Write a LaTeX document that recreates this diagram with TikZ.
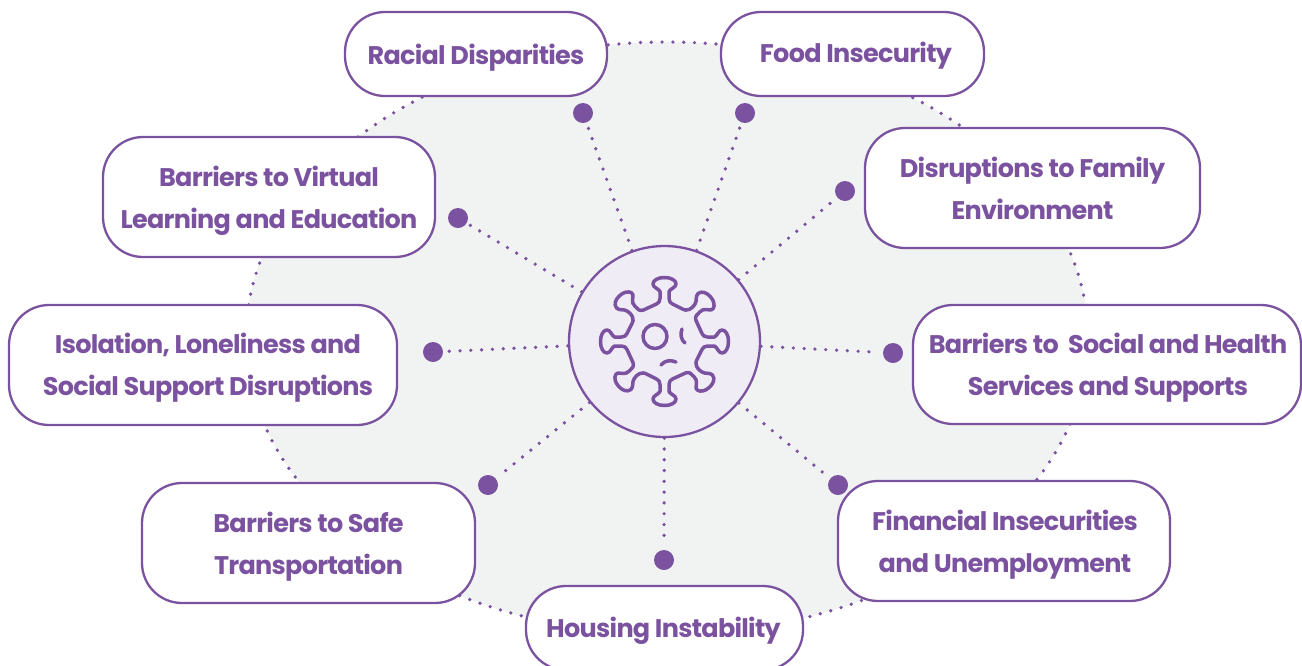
\documentclass[tikz,border=0pt]{standalone}
\usepackage{fontspec}
\setmainfont{Poppins}[LetterSpace=-2.8]
\definecolor{vio}{HTML}{7B529F}
\definecolor{hubfill}{HTML}{F0ECF5}
\definecolor{blob}{HTML}{F1F3F3}
\tikzset{
  x=1pt,y=-1pt,
  label box/.style={draw=vio,line width=2.3pt,fill=white,rounded corners=40pt,inner sep=0pt},
  label text/.style={inner sep=0pt,text=vio,align=center,font=\fontsize{25.5}{42}\selectfont\bfseries},
  dot/.style={circle,fill=vio,minimum size=20pt,inner sep=0pt,outer sep=4pt},
  hub/.style={circle,draw=vio,line width=2.3pt,fill=hubfill,minimum size=191pt,inner sep=0pt},
  dotline/.style={draw=vio,line width=3.7pt,line cap=round,dash pattern=on 0pt off 10.8pt},
  virus/.style={draw=vio,line width=3.5pt,line cap=round,line join=round},
}
% x, y, width, height, name, text dx, text dy (downward), text
\newcommand{\bx}[8]{\node[label box,minimum width=#3pt,minimum height=#4pt] (#5) at (#1,#2) {};
  \node[label text] (#5-t) at ([xshift=#6pt,yshift=-#7pt]#5.center) {#8};}
\begin{document}
\begin{tikzpicture}
\useasboundingbox (0,0) rectangle (1302,665);
\fill[blob] (667,338) ellipse [x radius=421pt,y radius=296pt];
\draw[dotline] (667,338) ellipse [x radius=421pt,y radius=296pt];
\node[hub] (hub) at (664.5,341.5) {};
\foreach \n/\x/\y in {d1/583/113,d2/745/113,d3/845/191,d4/893/353,d5/838/485,d6/664/560,d7/488/485,d8/433/352,d9/458/218}{
  \node[dot] (\n) at (\x,\y) {};
  \draw[dotline] (hub) -- (\n);
}
\bx{476}{54}{262}{84}{racial}{0}{3.5}{Racial Disparities}
\bx{852.5}{54}{263}{84}{food}{3.5}{1.5}{Food Insecurity}
\bx{1032.5}{188}{335}{120}{family}{0}{0.5}{Disruptions to Family\\Environment}
\bx{1107}{364.5}{388}{119}{social}{1}{3.5}{Barriers to\ \ Social and Health\\Services and Supports}
\bx{1004}{541}{332}{120}{finance}{1}{3.5}{Financial Insecurities\\and Unemployment}
\bx{664.5}{628}{277}{84}{housing}{-1}{2.5}{Housing Instability}
\bx{308.5}{543}{333}{120}{safe}{0}{3.5}{Barriers to Safe\\Transportation}
\bx{203}{365}{388}{120}{isolation}{5}{3}{Isolation, Loneliness and\\Social Support Disruptions}
\bx{269}{197}{332}{120}{virtual}{0}{3.5}{Barriers to Virtual\\Learning and Education}
\foreach \a in {0,90,180,270}{
  \begin{scope}[shift={(664.5,341.5)},rotate=\a]
    \draw[virus] (0,-64) .. controls (-7,-64) and (-11.5,-61) .. (-11.5,-57.5)
      .. controls (-11.5,-54) and (-6,-53) .. (-4.5,-50) -- (-4.5,-43)
      .. controls (-4.5,-40) and (-6,-38.5) .. (-8,-37.5) -- (-21,-31.5)
      .. controls (-25,-30) and (-27,-32.5) .. (-29.3,-35)
      .. controls (-34,-39) and (-31,-44) .. (-31.7,-47)
      .. controls (-32.5,-50) and (-38,-50.5) .. (-42,-48)
      .. controls (-47,-45) and (-50,-40) .. (-49.3,-36.5)
      .. controls (-48.5,-31) and (-43,-32) .. (-40,-31.5)
      .. controls (-36,-30.5) and (-33,-27) .. (-32,-24.5)
      .. controls (-31,-22) and (-31.5,-20) .. (-32,-19) -- (-37.5,-8)
      .. controls (-38.5,-6) and (-40,-4.5) .. (-43,-4.5) -- (-50,-4.5)
      .. controls (-53,-6) and (-54,-11.5) .. (-57.5,-11.5)
      .. controls (-61,-11.5) and (-64,-7) .. (-64,0);
  \end{scope}
}
\draw[virus] (655,336.5) circle [radius=12pt];
\draw[virus] (682,329) .. controls (680,334) and (681,340) .. (685,343);
\draw[virus] (661,365) .. controls (665,360) and (671,360) .. (676,362);
\end{tikzpicture}
\end{document}
